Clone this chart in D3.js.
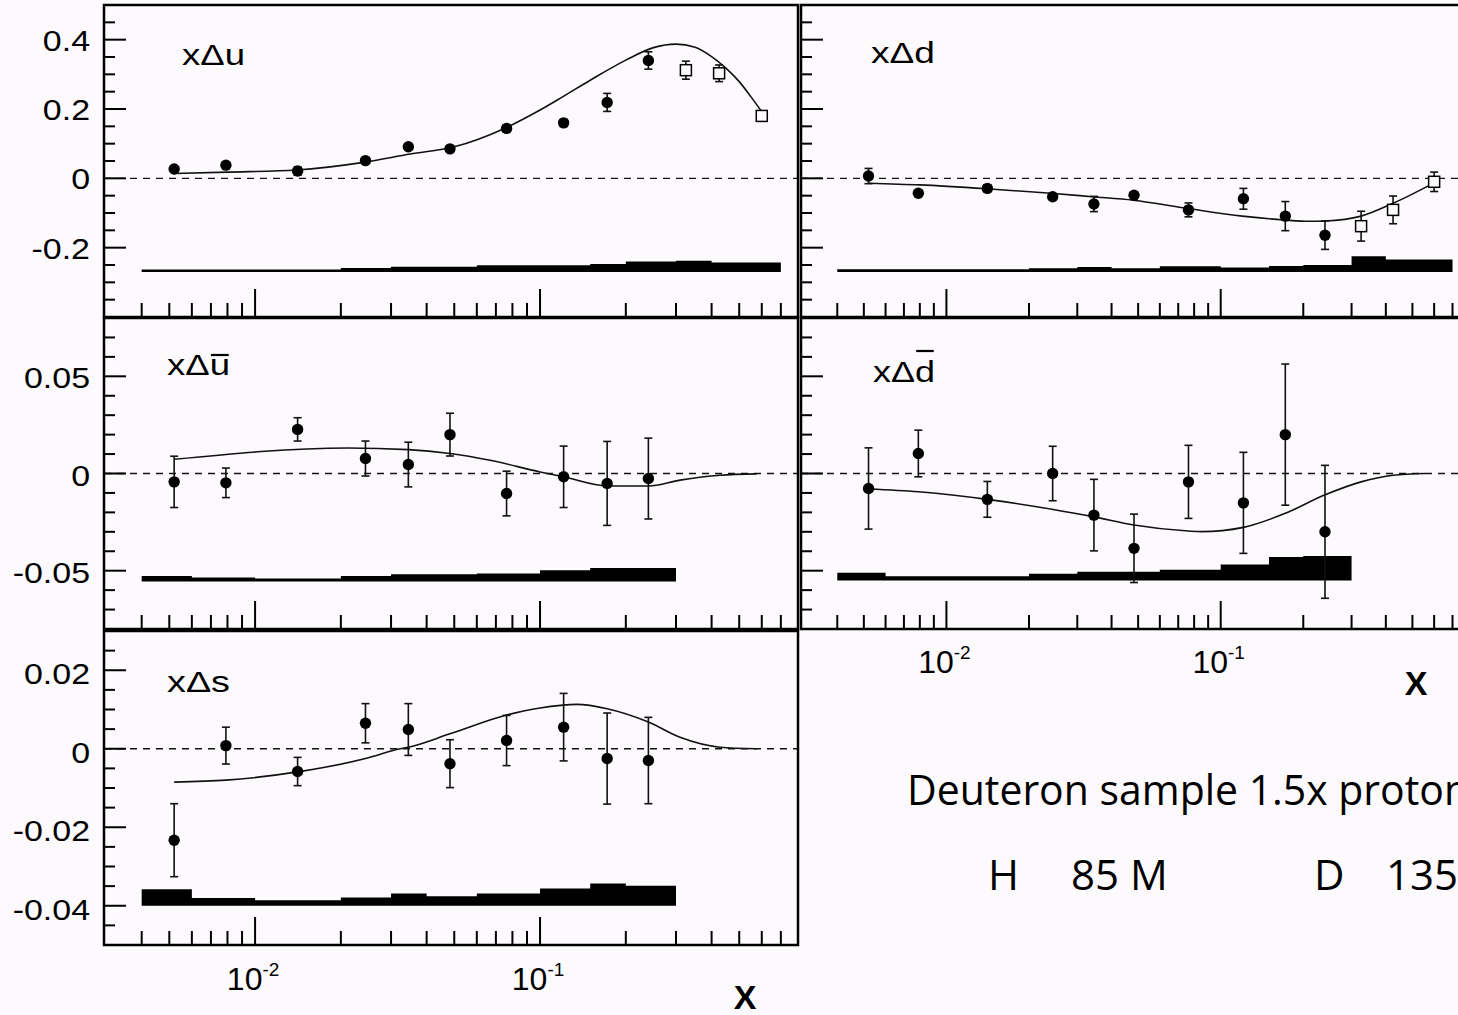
<!DOCTYPE html>
<html>
<head>
<meta charset="utf-8">
<title>Polarized quark distributions x&#916;q(x)</title>
<script src="https://cdn.jsdelivr.net/npm/d3@7/dist/d3.min.js"></script>
<style>
  html, body { margin: 0; padding: 0; background: #fdfafd; }
  svg { display: block; }
</style>
</head>
<body>
<svg id="chart" width="1458" height="1015"></svg>
<script>
// ---- measurement bins -------------------------------------------------
const pointX   = [0.0052, 0.0079, 0.0141, 0.0244, 0.0345, 0.0483, 0.0763, 0.121, 0.172, 0.240, 0.325, 0.425, 0.600];
const binEdges = [0.004, 0.006, 0.01, 0.02, 0.03, 0.04, 0.06, 0.1, 0.15, 0.2, 0.3, 0.4, 0.7];

// ---- x·Δu --------------------------------------------------------------
const uValues = [0.027, 0.038, 0.021, 0.051, 0.091, 0.085, 0.144, 0.160, 0.219, 0.340, 0.312, 0.303, 0.180];
const uErrors = [0.006, 0.006, 0.012, 0.006, 0.008, 0.008, 0.010, 0.010, 0.026, 0.025, 0.026, 0.024, 0.010];
const uSys    = [0.007, 0.007, 0.007, 0.011, 0.015, 0.015, 0.019, 0.019, 0.023, 0.030, 0.032, 0.027];
const uFitX   = [0.0052, 0.008, 0.014, 0.024, 0.035, 0.05, 0.075, 0.1, 0.12, 0.15, 0.2, 0.25, 0.3, 0.35, 0.4, 0.45, 0.5, 0.55, 0.6];
const uFitY   = [0.014, 0.018, 0.024, 0.046, 0.070, 0.091, 0.144, 0.197, 0.235, 0.283, 0.341, 0.377, 0.387, 0.378, 0.351, 0.317, 0.279, 0.235, 0.192];

// ---- x·Δd --------------------------------------------------------------
const dValues = [0.0066, -0.043, -0.029, -0.053, -0.074, -0.049, -0.091, -0.059, -0.109, -0.164, -0.138, -0.091, -0.010];
const dErrors = [0.022, 0.008, 0.010, 0.008, 0.022, 0.008, 0.020, 0.030, 0.042, 0.041, 0.043, 0.040, 0.028];
const dSys    = [0.0077, 0.0077, 0.0077, 0.0106, 0.0144, 0.0106, 0.0163, 0.0125, 0.0173, 0.0202, 0.0452, 0.0356];
const dFitX   = [0.0052, 0.008, 0.014, 0.024, 0.034, 0.048, 0.076, 0.12, 0.17, 0.21, 0.24, 0.325, 0.425, 0.6];
const dFitY   = [-0.014, -0.019, -0.030, -0.043, -0.053, -0.063, -0.087, -0.109, -0.120, -0.124, -0.123, -0.109, -0.072, -0.013];

// ---- x·Δū --------------------------------------------------------------
const ubValues = [-0.0043, -0.0048, 0.0227, 0.0077, 0.0046, 0.0200, -0.0103, -0.0017, -0.0051, -0.0026];
const ubErrors = [0.0132, 0.0076, 0.0060, 0.0090, 0.0115, 0.0110, 0.0115, 0.0158, 0.0216, 0.0208];
const ubSys    = [0.0028, 0.0020, 0.0015, 0.0028, 0.0037, 0.0037, 0.0040, 0.0057, 0.0069, 0.0069];
const ubFitX   = [0.0052, 0.0212, 0.0345, 0.0483, 0.0668, 0.1, 0.121, 0.172, 0.24, 0.31, 0.428, 0.576];
const ubFitY   = [0.0073, 0.0131, 0.0123, 0.0103, 0.0068, 0.0008, -0.0017, -0.0064, -0.0064, -0.0034, -0.0009, -0.0002];

// ---- x·Δd̄ --------------------------------------------------------------
const dbValues = [-0.0077, 0.0103, -0.0133, 0.0000, -0.0214, -0.0385, -0.0043, -0.0151, 0.0200, -0.0300];
const dbErrors = [0.0209, 0.0120, 0.0092, 0.0140, 0.0184, 0.0176, 0.0188, 0.0260, 0.0363, 0.0342];
const dbSys    = [0.0039, 0.0022, 0.0021, 0.0034, 0.0044, 0.0044, 0.0055, 0.0082, 0.0120, 0.0125];
const dbFitX   = [0.0052, 0.0079, 0.0141, 0.0245, 0.0343, 0.0483, 0.0762, 0.085, 0.121, 0.172, 0.239, 0.325, 0.425, 0.556];
const dbFitY   = [-0.0080, -0.0094, -0.0133, -0.0185, -0.0222, -0.0265, -0.0296, -0.0299, -0.0277, -0.0205, -0.0111, -0.0043, -0.0009, 0.0];

// ---- x·Δs --------------------------------------------------------------
const sValues = [-0.0233, 0.0008, -0.0058, 0.0065, 0.0049, -0.0038, 0.0021, 0.0055, -0.0025, -0.0030];
const sErrors = [0.0093, 0.0047, 0.0036, 0.0050, 0.0066, 0.0061, 0.0064, 0.0086, 0.0116, 0.0110];
const sSys    = [0.0042, 0.0020, 0.0014, 0.0021, 0.0031, 0.0024, 0.0031, 0.0044, 0.0057, 0.0051];
const sFitX   = [0.0052, 0.0079, 0.0141, 0.0244, 0.0323, 0.0345, 0.0483, 0.0763, 0.1, 0.135, 0.172, 0.24, 0.31, 0.428, 0.576];
const sFitY   = [-0.0085, -0.0080, -0.0059, -0.0025, 0.0, 0.0004, 0.0038, 0.0086, 0.0104, 0.0113, 0.0102, 0.0068, 0.0029, 0.0004, 0.0];

// ---- axis ticks --------------------------------------------------------
const xMajorTicks  = [0.01, 0.1];
const xMinorTicks  = [0.004, 0.005, 0.006, 0.007, 0.008, 0.009, 0.02, 0.03, 0.04, 0.05, 0.06, 0.07, 0.08, 0.09, 0.2, 0.3, 0.4, 0.5, 0.6, 0.7];
const xLabelValues = [0.01, 0.1];
const xLabelExps   = ['-2', '-1'];

const uTickValues  = [0.4, 0.2, 0, -0.2];
const uTickLabels  = ['0.4', '0.2', '0', '-0.2'];
const qbTickValues = [0.05, 0, -0.05];
const qbTickLabels = ['0.05', '0', '-0.05'];
const sTickValues  = [0.02, 0, -0.02, -0.04];
const sTickLabels  = ['0.02', '0', '-0.02', '-0.04'];

// ---- notes -------------------------------------------------------------
const noteLine1 = 'Deuteron sample 1.5x proton';
const noteLine2 = ['H', '85 M', 'D', '135 M'];

// ======================================================================
const BG = '#fdfafd';
const FONT = '"Liberation Sans", Arial, Helvetica, sans-serif';
const svg = d3.select('#chart');
svg.append('rect').attr('width', 1458).attr('height', 1015).attr('fill', BG);

const xDomain = [0.00295, 0.804];
const xLeft  = d3.scaleLog().domain(xDomain).range([104, 798]);
const xRight = d3.scaleLog().domain(xDomain).range([801, 1469]);

const zip = (a, b) => a.map((v, i) => [v, b[i]]);

const panels = [
  { x: xLeft,  top: 5,   bottom: 317, yDomain: [-0.4, 0.5],   minor: 0.05,  majors: [-0.2, 0, 0.2, 0.4],
    values: uValues, errors: uErrors, sys: uSys, base: -0.27, nBins: 12, openFrom: 10,
    fit: zip(uFitX, uFitY), tick: { values: uTickValues, labels: uTickLabels, dy: 11 },
    title: { q: 'u', bar: false, x: 182, y: 65, w: 63 } },
  { x: xRight, top: 5,   bottom: 317, yDomain: [-0.4, 0.5],   minor: 0.05,  majors: [-0.2, 0, 0.2, 0.4],
    values: dValues, errors: dErrors, sys: dSys, base: -0.27, nBins: 12, openFrom: 10,
    fit: zip(dFitX, dFitY), tick: null,
    title: { q: 'd', bar: false, x: 871, y: 63, w: 64 } },
  { x: xLeft,  top: 318, bottom: 629, yDomain: [-0.08, 0.08], minor: 0.01,  majors: [-0.05, 0, 0.05],
    values: ubValues, errors: ubErrors, sys: ubSys, base: -0.0555, nBins: 10, openFrom: 99,
    fit: zip(ubFitX, ubFitY), tick: { values: qbTickValues, labels: qbTickLabels, dy: 12 },
    title: { q: 'u', bar: true, x: 167, y: 375, w: 63 } },
  { x: xRight, top: 318, bottom: 629, yDomain: [-0.08, 0.08], minor: 0.01,  majors: [-0.05, 0, 0.05],
    values: dbValues, errors: dbErrors, sys: dbSys, base: -0.055, nBins: 10, openFrom: 99,
    fit: zip(dbFitX, dbFitY), tick: null,
    title: { q: 'd', bar: true, x: 873, y: 382, w: 62 } },
  { x: xLeft,  top: 631, bottom: 945, yDomain: [-0.05, 0.03], minor: 0.005, majors: [-0.04, -0.02, 0, 0.02],
    values: sValues, errors: sErrors, sys: sSys, base: -0.04, nBins: 10, openFrom: 99,
    fit: zip(sFitX, sFitY), tick: { values: sTickValues, labels: sTickLabels, dy: 14 },
    title: { q: 's', bar: false, x: 167, y: 692, w: 63 } }
];

panels.forEach(p => {
  const xs = p.x;
  const ys = d3.scaleLinear().domain(p.yDomain).range([p.bottom, p.top]);
  const [x0, x1] = xs.range();
  const g = svg.append('g');

  // systematic band (step histogram)
  const edges = binEdges.slice(0, p.nBins + 1);
  const bandPts = edges.map((e, i) => [e, p.sys[Math.min(i, p.nBins - 1)]]);
  g.append('path')
    .datum(bandPts)
    .attr('d', d3.area().curve(d3.curveStepAfter)
      .x(d => xs(d[0])).y0(ys(p.base)).y1(d => ys(p.base + d[1])))
    .attr('fill', '#000');

  // zero reference line
  g.append('line')
    .attr('x1', x0).attr('x2', x1).attr('y1', ys(0)).attr('y2', ys(0))
    .attr('stroke', '#111').attr('stroke-width', 1.4).attr('stroke-dasharray', '7,6');

  // parametrization curve
  g.append('path')
    .datum(p.fit)
    .attr('d', d3.line().curve(d3.curveMonotoneX).x(d => xs(d[0])).y(d => ys(d[1])))
    .attr('fill', 'none').attr('stroke', '#111').attr('stroke-width', 1.6);

  // data points with statistical error bars
  const pts = p.values.map((v, i) => ({ x: pointX[i], y: v, e: p.errors[i], open: i >= p.openFrom }));
  const eb = g.append('g').attr('stroke', '#111').attr('stroke-width', 1.6);
  pts.forEach(d => {
    const cx = xs(d.x), yt = ys(d.y + d.e), yb = ys(d.y - d.e);
    eb.append('line').attr('x1', cx).attr('x2', cx).attr('y1', yt).attr('y2', yb);
    eb.append('line').attr('x1', cx - 4).attr('x2', cx + 4).attr('y1', yt).attr('y2', yt);
    eb.append('line').attr('x1', cx - 4).attr('x2', cx + 4).attr('y1', yb).attr('y2', yb);
  });
  g.selectAll('circle.pt').data(pts.filter(d => !d.open)).join('circle')
    .attr('class', 'pt').attr('cx', d => xs(d.x)).attr('cy', d => ys(d.y)).attr('r', 5.7).attr('fill', '#000');
  g.selectAll('rect.pt').data(pts.filter(d => d.open)).join('rect')
    .attr('class', 'pt').attr('x', d => xs(d.x) - 5.5).attr('y', d => ys(d.y) - 5.5)
    .attr('width', 11).attr('height', 11).attr('fill', BG).attr('stroke', '#000').attr('stroke-width', 1.5);

  // frame
  g.append('rect').attr('x', x0).attr('y', p.top).attr('width', x1 - x0).attr('height', p.bottom - p.top)
    .attr('fill', 'none').attr('stroke', '#000').attr('stroke-width', 2.5);

  // y ticks
  const yt = g.append('g').attr('stroke', '#000').attr('stroke-width', 2);
  const [lo, hi] = p.yDomain;
  d3.range(Math.round(lo / p.minor) + 1, Math.round(hi / p.minor)).forEach(k => {
    const v = k * p.minor;
    const major = p.majors.some(m => Math.abs(m - v) < 1e-9);
    const len = major ? 22 : 11;
    yt.append('line').attr('x1', x0).attr('x2', x0 + len).attr('y1', ys(v)).attr('y2', ys(v));
  });

  // x ticks
  const xt = g.append('g').attr('stroke', '#000').attr('stroke-width', 2);
  xMinorTicks.forEach(v => xt.append('line').attr('x1', xs(v)).attr('x2', xs(v)).attr('y1', p.bottom).attr('y2', p.bottom - 14));
  xMajorTicks.forEach(v => xt.append('line').attr('x1', xs(v)).attr('x2', xs(v)).attr('y1', p.bottom).attr('y2', p.bottom - 28));

  // y tick labels (left column only)
  if (p.tick) {
    p.tick.values.forEach((v, i) => {
      svg.append('text')
        .attr('transform', `translate(90,${ys(v) + p.tick.dy}) scale(1.17,1)`)
        .attr('text-anchor', 'end')
        .attr('font-family', FONT).attr('font-size', 29).attr('fill', '#000')
        .text(p.tick.labels[i]);
    });
  }

  // panel title x·Δq, stretched to the drawn width
  const tg = svg.append('g');
  const tt = tg.append('text').attr('font-family', FONT).attr('font-size', 29).attr('fill', '#000')
    .text('x\u0394' + p.title.q);
  const natural = tt.node().getComputedTextLength();
  const sx = p.title.w / natural;
  tg.attr('transform', `translate(${p.title.x},${p.title.y}) scale(${sx},1)`);
  if (p.title.bar) {
    const ext = tt.node().getExtentOfChar(2);
    const barY = p.title.q === 'd' ? -31 : -20;
    tg.append('line').attr('x1', ext.x + 1).attr('x2', ext.x + ext.width - 1)
      .attr('y1', barY).attr('y2', barY).attr('stroke', '#000').attr('stroke-width', 2.2);
  }
});

// x-axis labels 10^n and axis title
function xAxisLabels(xs, baseline, titleX, titleY) {
  xLabelValues.forEach((v, i) => {
    const t = svg.append('text')
      .attr('x', xs(v) - 2).attr('y', baseline)
      .attr('text-anchor', 'middle')
      .attr('font-family', FONT).attr('font-size', 32).attr('fill', '#000');
    t.append('tspan').text('10');
    t.append('tspan').attr('font-size', 19).attr('dy', -14).text(xLabelExps[i]);
  });
  svg.append('text')
    .attr('x', titleX).attr('y', titleY).attr('text-anchor', 'middle')
    .attr('font-family', FONT).attr('font-size', 34).attr('font-weight', 'bold').attr('fill', '#000')
    .text('X');
}
xAxisLabels(xLeft, 990, 745, 1009);
xAxisLabels(xRight, 673, 1416, 695);

// event-sample note (runs off the right edge of the page)
const NOTE_FONT = '"Open Sans", "Noto Sans", sans-serif';
svg.append('text').attr('x', 907).attr('y', 805)
  .attr('font-family', NOTE_FONT).attr('font-size', 42).attr('fill', '#000')
  .attr('textLength', 562).attr('lengthAdjust', 'spacingAndGlyphs')
  .text(noteLine1);
const line2X = [988, 1071, 1314, 1386];
noteLine2.forEach((s, i) => {
  svg.append('text').attr('x', line2X[i]).attr('y', 890)
    .attr('font-family', NOTE_FONT).attr('font-size', 42).attr('fill', '#000')
    .text(s);
});
</script>
</body>
</html>
